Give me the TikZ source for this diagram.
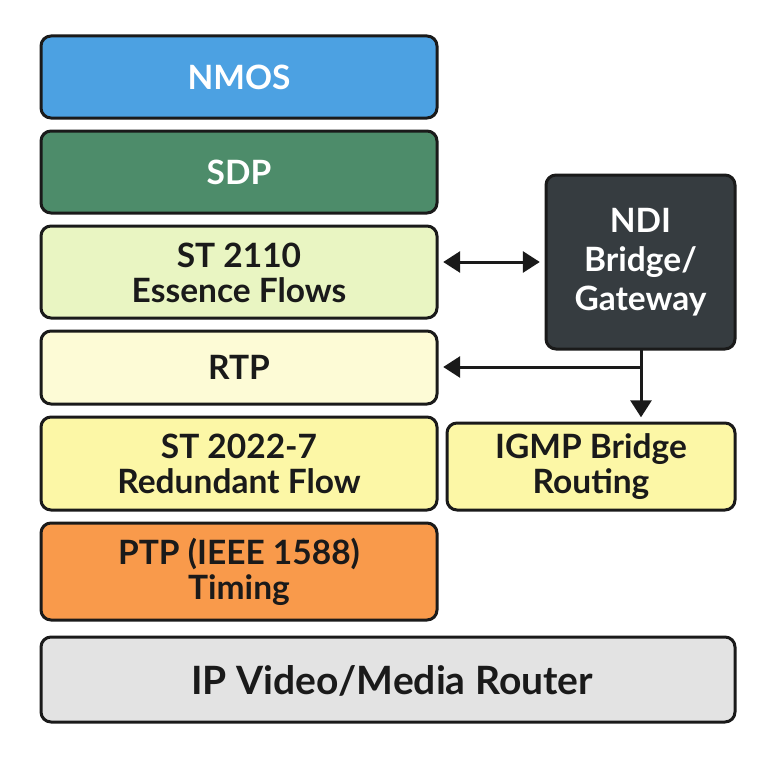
\documentclass[tikz,border=0pt]{standalone}
\usepackage{fontspec}
\setmainfont{Lato}
\usetikzlibrary{arrows.meta}
\definecolor{cNmos}{HTML}{4CA1E2}
\definecolor{cSdp}{HTML}{4D8C6A}
\definecolor{cSt}{HTML}{E9F5C2}
\definecolor{cRtp}{HTML}{FDFBD6}
\definecolor{cRed}{HTML}{FCF7A6}
\definecolor{cPtp}{HTML}{F99A4B}
\definecolor{cRouter}{HTML}{E3E3E3}
\definecolor{cNdi}{HTML}{363C40}
\definecolor{cLine}{HTML}{1A1A1A}
\begin{document}
\begin{tikzpicture}[x=1pt,y=-1pt,
  layer/.style={draw=cLine,line width=3pt,rounded corners=10pt},
  lbl/.style={font=\fontsize{33.5}{35}\selectfont\bfseries,text=cLine,align=center},
  tip/.style={Triangle[length=17pt,width=21pt]},
  conn/.style={draw=cLine,line width=3pt,-{Triangle[length=17pt,width=21pt]}}]
\useasboundingbox (0,0) rectangle (768,768);
\fill[white] (0,0) rectangle (768,768);
\draw[layer,fill=cNmos] (41,36) rectangle (437,118);
\node[lbl,text=white] (nmos) at (239,77) {NMOS};
\draw[layer,fill=cSdp] (41,131) rectangle (437,213);
\node[lbl,text=white] (sdp) at (239,172) {SDP};
\draw[layer,fill=cSt] (41,226) rectangle (437,318);
\node[lbl,minimum width=396pt,minimum height=92pt] (st) at (239,273) {ST 2110\\Essence Flows};
\draw[layer,fill=cRtp] (41,331) rectangle (437,404);
\node[lbl,minimum width=396pt,minimum height=73pt] (rtp) at (239,367) {RTP};
\draw[layer,fill=cRed] (41,417) rectangle (437,510);
\node[lbl] (red) at (239,464) {ST 2022-7\\Redundant Flow};
\draw[layer,fill=cPtp] (41,523) rectangle (437,620);
\node[lbl] (ptp) at (239,572) {PTP (IEEE 1588)\\Timing};
\draw[layer,fill=cRouter] (41,637) rectangle (735,722);
\node[lbl,font=\fontsize{39}{44}\selectfont\bfseries] (router) at (392,681) {IP Video/Media Router};
\draw[layer,fill=cNdi] (546,175) rectangle (735,349);
\node[lbl,font=\fontsize{33.5}{39}\selectfont\bfseries,text=white,minimum width=189pt,minimum height=174pt] (ndi) at (640.5,262) {NDI\\Bridge/\\Gateway};
\draw[layer,fill=cRed] (447,423) rectangle (735,510);
\node[lbl,minimum width=288pt,minimum height=87pt] (igmp) at (591,467) {IGMP Bridge\\Routing};
% connectors
\coordinate (j) at (641,367);
\draw[conn,{Triangle[length=17pt,width=21pt]}-{Triangle[length=17pt,width=21pt]},shorten <=6pt,shorten >=6pt] (st.east |- 0,262) -- (ndi.west |- 0,262);
\draw[draw=cLine,line width=3pt] (ndi.south -| j) -- (j);
\draw[conn,shorten >=6pt] (j) -- (rtp.east |- j);
\draw[conn,shorten >=6pt] (j) -- (igmp.north -| j);
\end{tikzpicture}
\end{document}
